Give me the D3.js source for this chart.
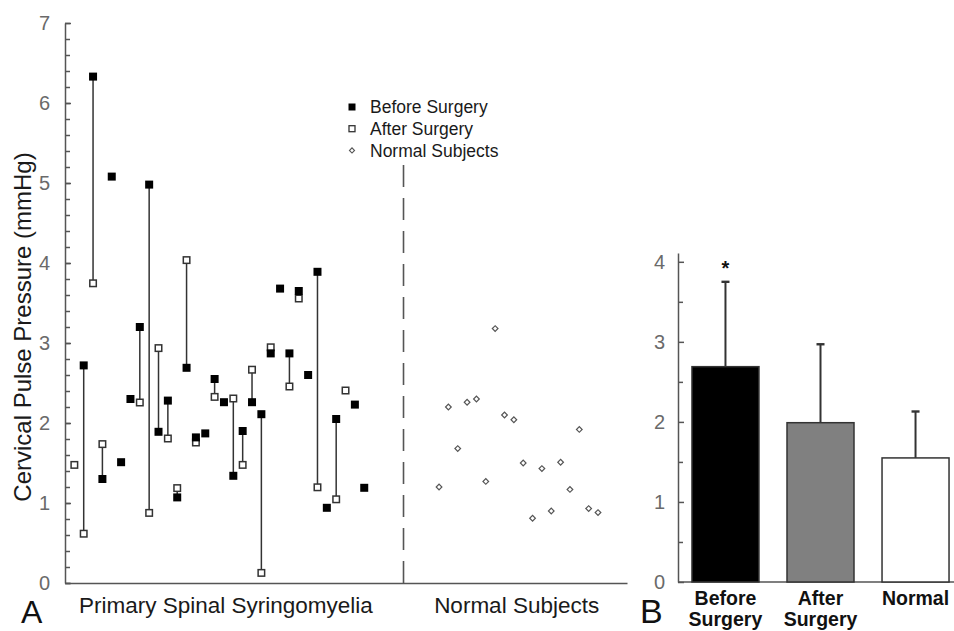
<!DOCTYPE html>
<html>
<head>
<meta charset="utf-8">
<script src="https://cdn.jsdelivr.net/npm/d3@7"></script>
<style>
  html, body { margin: 0; padding: 0; background: #fff; }
  svg { display: block; font-family: "Liberation Sans", Arial, sans-serif; }
</style>
</head>
<body>
<svg id="chart" width="954" height="631"></svg>
<script>
// ---------------- DATA ----------------
// Panel A: primary spinal syringomyelia patients (null = not measured)
const beforeSurgery = [null, 2.72, 6.33, 1.30, 5.08, 1.51, 2.30, 3.20, 4.98, 1.89, 2.28, 1.07, 2.69, 1.82, 1.87, 2.55,
                       2.26, 1.34, 1.90, 2.26, 2.11, 2.87, 3.68, 2.87, 3.65, 2.60, 3.89, 0.94, 2.05, null, 2.23, 1.19];
const afterSurgery  = [1.47, 0.61, 3.74, 1.73, null, null, null, 2.25, 0.87, 2.93, 1.80, 1.18, 4.03, 1.75, null, 2.32,
                       null, 2.30, 1.47, 2.66, 0.12, 2.94, null, 2.45, 3.55, null, 1.19, null, 1.04, 2.40, null, null];
const normalSubjects = [1.20, 2.20, 1.68, 2.26, 2.30, 1.27, 3.18, 2.10, 2.04, 1.50, 0.81, 1.43, 0.90, 1.51, 1.17, 1.92, 0.93, 0.88];

const yTicksA = [0, 1, 2, 3, 4, 5, 6, 7];
const groupLabelsA = ["Primary Spinal Syringomyelia", "Normal Subjects"];
const legendLabels = ["Before Surgery", "After Surgery", "Normal Subjects"];

// Panel B: group means and SDs
const barCategories = ["Before Surgery", "After Surgery", "Normal"];
const barMeans = [2.69, 1.99, 1.55];
const barSDs   = [1.06, 0.98, 0.58];
const barColors = ["#000000", "#808080", "#ffffff"];
const yTicksB = [0, 1, 2, 3, 4];

// ---------------- LAYOUT ----------------
const svg = d3.select("#chart");
const W = 954;
const axisColor = "#555";
const tickTextColor = "#6a6a6a";
const normalOffset = 39;   // slot index where normal subjects start
const dividerSlot = 35.2;

// ---------- Panel A ----------
const xA = d3.scaleLinear().domain([-1, 59.1]).range([65, 627]);
const yA = d3.scaleLinear().domain([0, 7]).range([583, 23]);

const gA = svg.append("g");

const gyA = gA.append("g").attr("transform", `translate(${xA(-1)},0)`)
  .call(d3.axisLeft(yA).tickValues(yTicksA).tickSize(-6).tickSizeOuter(0).tickPadding(15).tickFormat(d3.format("d")));
gA.append("g").attr("transform", `translate(${xA(-1)},0)`)
  .call(d3.axisLeft(yA).tickValues(d3.range(0, 7.001, 0.2)).tickSize(-5).tickSizeOuter(0).tickFormat(""))
  .select(".domain").remove();
const gxA = gA.append("g").attr("transform", `translate(0,${yA(0)})`)
  .call(d3.axisBottom(xA).tickValues([]).tickSizeOuter(0));

[gyA, gxA].forEach(g => {
  g.selectAll("text").attr("fill", tickTextColor).attr("font-size", 20)
    .attr("font-family", "'Liberation Sans', Arial, sans-serif");
});
gA.selectAll("path, line").attr("stroke", axisColor).attr("stroke-width", 1.5);

// dashed divider
gA.append("line")
  .attr("x1", xA(dividerSlot)).attr("x2", xA(dividerSlot))
  .attr("y1", yA(0)).attr("y2", yA(5.35))
  .attr("stroke", "#555").attr("stroke-width", 1.6)
  .attr("stroke-dasharray", "22,11");

// connectors
const pairs = beforeSurgery.map((b, i) => ({ i, b, a: afterSurgery[i] }));
gA.append("g").selectAll("line")
  .data(pairs.filter(p => p.b != null && p.a != null))
  .join("line")
  .attr("x1", p => xA(p.i)).attr("x2", p => xA(p.i))
  .attr("y1", p => yA(p.b)).attr("y2", p => yA(p.a))
  .attr("stroke", "#333").attr("stroke-width", 1.5);

// after (open squares)
const sq = 7.5;
gA.append("g").selectAll("rect")
  .data(pairs.filter(p => p.a != null))
  .join("rect")
  .attr("x", p => xA(p.i) - sq / 2 + 0.5).attr("y", p => yA(p.a) - sq / 2)
  .attr("width", sq - 1).attr("height", sq - 1)
  .attr("fill", "#fff").attr("stroke", "#333").attr("stroke-width", 1.5);

// before (filled squares)
gA.append("g").selectAll("rect")
  .data(pairs.filter(p => p.b != null))
  .join("rect")
  .attr("x", p => xA(p.i) - 4).attr("y", p => yA(p.b) - 4)
  .attr("width", 8).attr("height", 8)
  .attr("fill", "#000");

// normal subjects (diamonds)
const diamond = d3.symbol().type(d3.symbolSquare).size(16);
gA.append("g").selectAll("path")
  .data(normalSubjects.map((v, j) => ({ j, v })))
  .join("path")
  .attr("d", diamond)
  .attr("transform", d => `translate(${xA(normalOffset + d.j)},${yA(d.v)}) rotate(45)`)
  .attr("fill", "#fff").attr("stroke", "#555").attr("stroke-width", 1.2);

// group labels under the axis
gA.append("text").attr("x", xA(16.2)).attr("y", 613).attr("text-anchor", "middle")
  .attr("font-size", 22.5).attr("fill", "#1a1a1a").text(groupLabelsA[0]);
gA.append("text").attr("x", xA(47.3)).attr("y", 613).attr("text-anchor", "middle")
  .attr("font-size", 22.5).attr("fill", "#1a1a1a").text(groupLabelsA[1]);

// y title
gA.append("text")
  .attr("transform", `translate(31,${(yA(0) + yA(7)) / 2 + 24}) rotate(-90)`)
  .attr("text-anchor", "middle").attr("font-size", 24).attr("fill", "#1a1a1a")
  .text("Cervical Pulse Pressure (mmHg)");

// panel letter
svg.append("text").attr("x", 21).attr("y", 623).attr("font-size", 32).attr("fill", "#111").text("A");

// legend
const legend = gA.append("g").attr("transform", "translate(352,107)");
const legRows = legend.selectAll("g").data(legendLabels).join("g")
  .attr("transform", (d, i) => `translate(0,${i * 21.7})`);
legRows.each(function (d, i) {
  const g = d3.select(this);
  if (i === 0) g.append("rect").attr("x", -3.5).attr("y", -3.5).attr("width", 7).attr("height", 7).attr("fill", "#000");
  if (i === 1) g.append("rect").attr("x", -3).attr("y", -3).attr("width", 6).attr("height", 6)
    .attr("fill", "#fff").attr("stroke", "#333").attr("stroke-width", 1.3);
  if (i === 2) g.append("path").attr("d", d3.symbol().type(d3.symbolSquare).size(13))
    .attr("transform", "rotate(45)").attr("fill", "#fff").attr("stroke", "#555").attr("stroke-width", 1.1);
  g.append("text").attr("x", 18).attr("dy", "0.36em").attr("font-size", 17.5).attr("fill", "#1a1a1a").text(d);
});

// ---------- Panel B ----------
const xB = d3.scaleBand().domain(barCategories).range([678, 963]).paddingInner(0.295).paddingOuter(0.147);
const yB = d3.scaleLinear().domain([0, 4.11]).range([582, 253]);
const gB = svg.append("g");

const gyB = gB.append("g").attr("transform", `translate(${xB.range()[0]},0)`)
  .call(d3.axisLeft(yB).tickValues(yTicksB).tickSize(-6).tickSizeOuter(0).tickPadding(13).tickFormat(d3.format("d")));
gB.append("g").attr("transform", `translate(${xB.range()[0]},0)`)
  .call(d3.axisLeft(yB).tickValues(d3.range(0.5, 4, 1)).tickSize(-5).tickSizeOuter(0).tickFormat(""))
  .select(".domain").remove();
gB.append("line").attr("x1", xB.range()[0]).attr("x2", W).attr("y1", yB(0)).attr("y2", yB(0));
gB.selectAll("path, line").attr("stroke", axisColor).attr("stroke-width", 1.5);
gyB.selectAll("text").attr("fill", tickTextColor).attr("font-size", 20)
  .attr("font-family", "'Liberation Sans', Arial, sans-serif");

const barData = barCategories.map((c, i) => ({ c, m: barMeans[i], sd: barSDs[i], col: barColors[i] }));
const cx = d => xB(d.c) + xB.bandwidth() / 2;

// error bars
const eg = gB.append("g").selectAll("g").data(barData).join("g");
eg.append("line")
  .attr("x1", cx).attr("x2", cx)
  .attr("y1", d => yB(d.m)).attr("y2", d => yB(d.m + d.sd))
  .attr("stroke", "#333").attr("stroke-width", 2);
eg.append("line")
  .attr("x1", d => cx(d) - 4).attr("x2", d => cx(d) + 4)
  .attr("y1", d => yB(d.m + d.sd)).attr("y2", d => yB(d.m + d.sd))
  .attr("stroke", "#333").attr("stroke-width", 2.4);

// bars
gB.append("g").selectAll("rect").data(barData).join("rect")
  .attr("x", d => xB(d.c)).attr("width", xB.bandwidth())
  .attr("y", d => yB(d.m)).attr("height", d => yB(0) - yB(d.m))
  .attr("fill", d => d.col).attr("stroke", "#333").attr("stroke-width", 1.5);

// significance star
gB.append("text")
  .attr("x", cx(barData[0]))
  .attr("y", yB(barMeans[0] + barSDs[0]) - 7)
  .attr("text-anchor", "middle").attr("font-size", 20).attr("font-weight", "bold").attr("fill", "#111")
  .text("*");

// category labels
barData.forEach(d => {
  const words = d.c.split(" ");
  const t = gB.append("text")
    .attr("x", cx(d)).attr("y", 605)
    .attr("text-anchor", "middle").attr("font-size", 19.5).attr("font-weight", "bold").attr("fill", "#111");
  words.forEach((w, k) => t.append("tspan").attr("x", cx(d)).attr("dy", k === 0 ? 0 : 21).text(w));
});

svg.append("text").attr("x", 640).attr("y", 623).attr("font-size", 34).attr("fill", "#111").text("B");
</script>
</body>
</html>
